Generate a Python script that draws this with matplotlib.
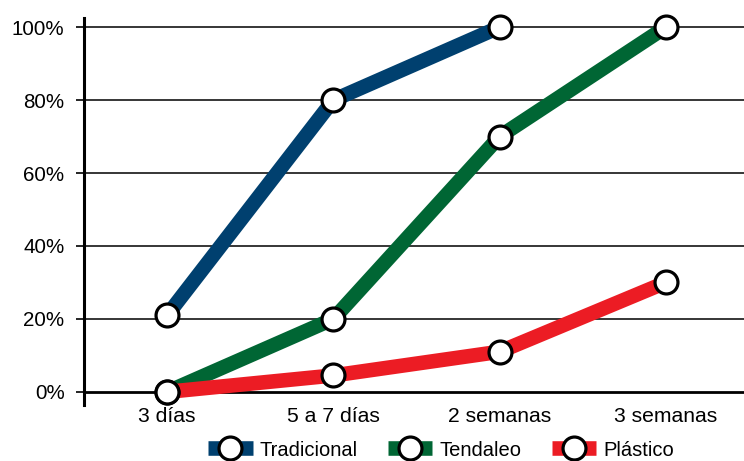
import matplotlib.pyplot as plt
import numpy as np

plt.rcParams['font.family'] = ['Liberation Sans', 'DejaVu Sans']

categorias = ['3 días', '5 a 7 días', '2 semanas', '3 semanas']
tradicional = [21, 80, 100]
tendaleo = [0, 20, 70, 100]
plastico = [0, 4.5, 11, 30]

series = [
    ('Tradicional', tradicional, '#00406f'),
    ('Tendaleo', tendaleo, '#006634'),
    ('Plástico', plastico, '#ec1c24'),
]


def main():
    fig = plt.figure(figsize=(7.44, 4.61), dpi=100)
    ax = fig.add_axes([84 / 744, 1 - 405 / 461, 1 - 84 / 744, (405 - 18) / 461])

    x = np.arange(len(categorias))
    for i, (nombre, valores, color) in enumerate(series):
        xs = x[:len(valores)]
        ax.plot(xs, valores, color=color, lw=10.5, solid_capstyle='butt',
                zorder=3 + i * 0.1, clip_on=False)
        ax.plot(xs, valores, 'o', ms=16.5, mfc='white', mec='black', mew=2.3,
                zorder=5, clip_on=False)
        # entrada de leyenda: banda de color con círculo blanco
        ax.plot([], [], color=color, lw=10.5, solid_capstyle='butt',
                marker='o', ms=16.5, mfc='white', mec='black', mew=2.3,
                label=nombre)

    ax.set_xlim(-0.5, 3.47)
    ax.set_ylim(-3.6, 102.5)
    ax.set_yticks([0, 20, 40, 60, 80, 100])
    ax.set_yticklabels(['0%', '20%', '40%', '60%', '80%', '100%'])
    ax.set_xticks(x)
    ax.set_xticklabels(categorias)
    ax.tick_params(axis='x', length=0, pad=1.5, labelsize=15.2)
    ax.tick_params(axis='y', length=6, width=1.2, pad=8, labelsize=14.8)

    for v in [20, 40, 60, 80, 100]:
        ax.axhline(v, color='black', lw=1.1, zorder=1)
    ax.axhline(0, color='black', lw=2.0, zorder=2)

    for lado in ['top', 'right', 'bottom']:
        ax.spines[lado].set_visible(False)
    ax.spines['left'].set_linewidth(2.2)

    fig.legend(loc='center', bbox_to_anchor=(441 / 744, 1 - 450 / 461),
               ncol=3, frameon=False, fontsize=14.5, handlelength=2.2,
               columnspacing=1.5, handletextpad=0.35, borderaxespad=0)

    fig.savefig('out.png', dpi=100)


if __name__ == "__main__":
    main()
